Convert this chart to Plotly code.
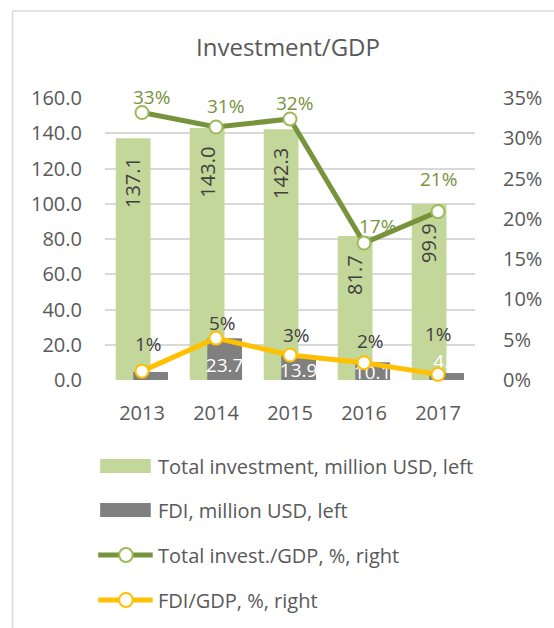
import plotly.graph_objects as go

# ---------------- data ----------------
years = ["2013", "2014", "2015", "2016", "2017"]
total_investment = [137.1, 143.0, 142.3, 81.7, 99.9]      # million USD, left axis
fdi = [4.5, 23.7, 13.9, 10.1, 4.0]                         # million USD, left axis
total_inv_gdp = [0.332, 0.314, 0.324, 0.170, 0.209]        # share, right axis
fdi_gdp = [0.011, 0.052, 0.031, 0.0215, 0.007]             # share, right axis
left_ticks = [0, 20, 40, 60, 80, 100, 120, 140, 160]
right_ticks = [0, 0.05, 0.10, 0.15, 0.20, 0.25, 0.30, 0.35]
series_names = ["Total investment, million USD, left", "FDI, million USD, left",
                "Total invest./GDP, %, right", "FDI/GDP, %, right"]

# ---------------- styles ----------------
W, H = 554, 628
PL, PR, PT, PB = 105, 485, 98, 380          # plot area in pixels
FONT = "Open Sans"
C_TOTAL = "#c4d79b"
C_FDI = "#808080"
C_LINE1 = "#77933c"
C_MARK1 = "#9bbb59"
C_LINE2 = "#ffc000"
C_TEXT = "#595959"
C_DARK = "#404040"
C_GRID = "#d9d9d9"
BAR_W = 0.47
OFF_TOTAL = -0.355
OFF_FDI = -0.118
LBL_SIZE = 20

# label nudges (pixels) for the percentage labels
tot_lbl_dx = [9, 9, 4, 13, 0]
tot_lbl_dy = [16, 21, 16, 17, 33]
fdi_lbl_dx = [6, 6, 6, 6, 0]
fdi_lbl_dy = [27, 15, 20, 22, 40]


def px(x):
    return (x - PL) / (PR - PL)


def py(y):
    return (PB - y) / (PB - PT)


def text_len(s, size):
    # approximate rendered length of a numeric label
    return sum(0.27 if ch == "." else 0.572 for ch in s) * size


xs = list(range(len(years)))

fig = go.Figure()

fig.add_trace(go.Bar(
    x=xs, y=total_investment, name=series_names[0],
    width=BAR_W, offset=OFF_TOTAL, marker=dict(color=C_TOTAL, line=dict(width=0)),
    showlegend=False, hoverinfo="y"))
fig.add_trace(go.Bar(
    x=xs, y=fdi, name=series_names[1],
    width=BAR_W, offset=OFF_FDI, marker=dict(color=C_FDI, line=dict(width=0)),
    showlegend=False, hoverinfo="y"))

# FDI bar labels (white, clipped by the plot area)
fdi_text = [f"{v:.1f}" for v in fdi]
fdi_text[0] = ""
fdi_lbl_y = [v * 0.3 for v in fdi]
fdi_lbl_y[-1] = fdi[-1]
fdi_pos = ["middle center"] * 4 + ["top center"]
fig.add_trace(go.Scatter(
    x=[i + OFF_FDI + BAR_W / 2 for i in xs], y=fdi_lbl_y, mode="text",
    text=fdi_text, textposition=fdi_pos, cliponaxis=True,
    textfont=dict(family=FONT, size=19, color="white"),
    showlegend=False, hoverinfo="skip"))

fig.add_trace(go.Scatter(
    x=xs, y=total_inv_gdp, name=series_names[2], yaxis="y2", mode="lines+markers",
    line=dict(color=C_LINE1, width=5),
    marker=dict(size=13, color="white", line=dict(color=C_MARK1, width=2)),
    showlegend=False, cliponaxis=False))
fig.add_trace(go.Scatter(
    x=xs, y=fdi_gdp, name=series_names[3], yaxis="y2", mode="lines+markers",
    line=dict(color=C_LINE2, width=5),
    marker=dict(size=13, color="white", line=dict(color=C_LINE2, width=2)),
    showlegend=False, cliponaxis=False))

annotations = []
# total investment labels, rotated, inside the bar top
for i, v in enumerate(total_investment):
    s = f"{v:.1f}"
    annotations.append(dict(
        x=i + OFF_TOTAL + BAR_W / 2, y=v, xref="x", yref="y",
        text=s, textangle=-90, showarrow=False,
        xanchor="center", yanchor="middle",
        yshift=-(19 + text_len(s, LBL_SIZE) / 2),
        font=dict(family=FONT, size=LBL_SIZE, color=C_DARK)))
# percentage labels
for i, v in enumerate(total_inv_gdp):
    annotations.append(dict(
        x=i, y=v, xref="x", yref="y2", text=f"{v:.0%}", showarrow=False,
        xanchor="center", yanchor="middle",
        xshift=tot_lbl_dx[i], yshift=tot_lbl_dy[i],
        font=dict(family=FONT, size=19, color=C_LINE1)))
for i, v in enumerate(fdi_gdp):
    annotations.append(dict(
        x=i, y=v, xref="x", yref="y2", text=f"{v:.0%}", showarrow=False,
        xanchor="center", yanchor="middle",
        xshift=fdi_lbl_dx[i], yshift=fdi_lbl_dy[i],
        font=dict(family=FONT, size=19, color=C_DARK)))

# custom legend
legend_y = [466, 510, 555, 600]
shapes = []
shapes.append(dict(type="rect", xref="paper", yref="paper",
                   x0=px(100), x1=px(152), y0=py(legend_y[0] + 7), y1=py(legend_y[0] - 7),
                   fillcolor=C_TOTAL, line=dict(width=0)))
shapes.append(dict(type="rect", xref="paper", yref="paper",
                   x0=px(100), x1=px(152), y0=py(legend_y[1] + 7), y1=py(legend_y[1] - 7),
                   fillcolor=C_FDI, line=dict(width=0)))
for yy, lc, mc in [(legend_y[2], C_LINE1, C_MARK1), (legend_y[3], C_LINE2, C_LINE2)]:
    shapes.append(dict(type="line", xref="paper", yref="paper",
                       x0=px(98), x1=px(154), y0=py(yy), y1=py(yy),
                       line=dict(color=lc, width=5)))
    shapes.append(dict(type="circle", xref="paper", yref="paper",
                       x0=px(119.5), x1=px(133.5), y0=py(yy + 7), y1=py(yy - 7),
                       fillcolor="white", line=dict(color=mc, width=2)))
for name, yy in zip(series_names, legend_y):
    annotations.append(dict(
        x=px(157), y=py(yy), xref="paper", yref="paper", text=name,
        showarrow=False, xanchor="left", yanchor="middle",
        font=dict(family=FONT, size=20, color=C_TEXT)))

# chart-area border (left and top edges visible)
shapes.append(dict(type="line", xref="paper", yref="paper",
                   x0=px(10), x1=px(10), y0=py(11), y1=py(700),
                   line=dict(color=C_GRID, width=1.5)))
shapes.append(dict(type="line", xref="paper", yref="paper",
                   x0=px(10), x1=px(620), y0=py(11), y1=py(11),
                   line=dict(color=C_GRID, width=1.5)))

fig.update_layout(
    width=W, height=H,
    margin=dict(l=PL, r=W - PR, t=PT, b=H - PB, pad=0),
    paper_bgcolor="white", plot_bgcolor="white",
    barmode="overlay", showlegend=False,
    font=dict(family=FONT, size=20, color=C_TEXT),
    title=dict(text="Investment/GDP", x=288 / W, xanchor="center",
               y=1 - 48 / H, yanchor="middle",
               font=dict(family=FONT, size=24, color=C_TEXT)),
    xaxis=dict(range=[-0.5, len(years) - 0.5], tickvals=xs, ticktext=years,
               showgrid=False, zeroline=False, showline=False, ticks="",
               ticklabelstandoff=19, tickfont=dict(size=20, color=C_TEXT),
               fixedrange=True),
    yaxis=dict(range=[0, 160], tickvals=left_ticks, tickformat=".1f",
               showgrid=True, gridcolor=C_GRID, gridwidth=1.5,
               zeroline=False, showline=False, ticks="",
               ticklabelstandoff=22, tickfont=dict(size=20, color=C_TEXT)),
    yaxis2=dict(range=[0, 0.35], tickvals=right_ticks, tickformat=".0%",
                overlaying="y", side="right", showgrid=False, zeroline=False,
                showline=False, ticks="", ticklabelstandoff=27,
                tickfont=dict(size=20, color=C_TEXT)),
    annotations=annotations, shapes=shapes,
)

fig.write_html("out.html", config={"displayModeBar": False},
               post_script="document.body.style.margin='0';document.body.style.overflow='hidden';")
